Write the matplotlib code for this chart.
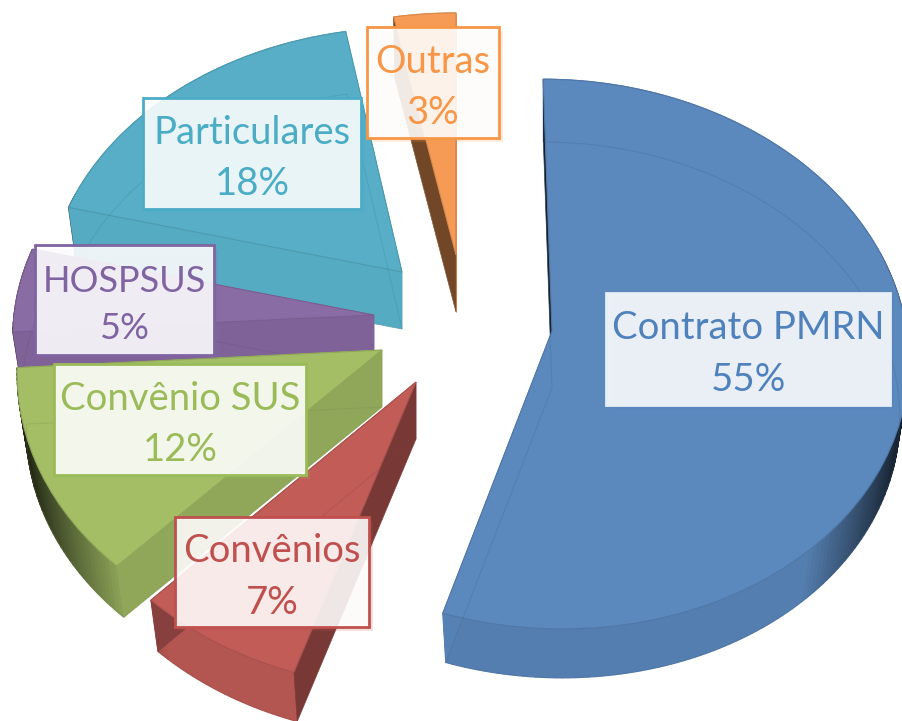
import numpy as np
import matplotlib
matplotlib.use('Agg')
import matplotlib.pyplot as plt
import matplotlib.patheffects as pe
from matplotlib.patches import Rectangle
from matplotlib.transforms import Transform, Affine2D

# data
categories = ['Contrato PMRN', 'Convênios', 'Convênio SUS', 'HOSPSUS', 'Particulares', 'Outras']
shares = [55, 7, 12, 5, 18, 3]
percent_labels = ['55%', '7%', '12%', '5%', '18%', '3%']

# styles
colors = ['#5b88bd', '#c15c57', '#a4be66', '#8a6ca5', '#57aec6', '#f59b55']
text_colors = ['#4f81bd', '#c0504d', '#9bbb59', '#8064a2', '#4bacc6', '#f79646']
start_wall_shade = [0.22, 0.62, 0.88, 0.92, 0.98, 0.46]
end_wall_shade = [0.95, 0.7, 0.9, 0.95, 0.98, 0.95]
draw_order = [5, 4, 3, 1, 2, 0]  # back to front, by slice index
font_sizes = [27.5, 27.5, 27.5, 26, 27.5, 27.5]

# layout, in pixels
apex_x = [552, 416, 382, 374, 402, 456]
apex_y = [331, 382, 350, 315, 272, 255]
size_x = [0.985, 1.01, 1.01, 1.0, 0.98, 1.0]
size_y = [1.03, 1.06, 1.05, 1.02, 1.0, 0.99]
shear = [0.035, 0, 0, 0, -0.02, 0]
box_left = [606, 175, 54, 35, 143, 367]
box_top = [293, 517, 364, 245, 98, 27]
box_right = [890, 369, 306, 214, 361, 499]
box_bottom = [405, 627, 475, 355, 209, 138]
border_colors = ['#e8eef5', '#c0504d', '#9bbb59', '#8064a2', '#4bacc6', '#f79646']
depth = 57
base_scale = 0.975
rx, ry, k = 360, 265, 0.084


class Perspective(Transform):
    input_dims = 2
    output_dims = 2

    def transform_non_affine(self, values):
        values = np.asarray(values, dtype=float)
        f = 1 / (1 + k * values[:, 1])
        return np.column_stack([rx * values[:, 0] * f, -ry * values[:, 1] * f])


def placement(idx, drop=0):
    m = Affine2D.from_values(size_x[idx], 0, shear[idx] * size_y[idx], size_y[idx], 0, 0)
    return m + Affine2D().translate(apex_x[idx], apex_y[idx] + drop)


def project(theta, radius, idx, drop=0):
    u = radius * np.sin(np.radians(theta))
    v = radius * np.cos(np.radians(theta))
    p = Perspective().transform_non_affine(np.column_stack([u, v]))
    return placement(idx, drop).transform(p)


def shade(color, s):
    return tuple(min(c * s, 1) for c in matplotlib.colors.to_rgb(color))


def radial_wall(ax, theta, idx, s, z):
    rim = project(np.array([theta]), 1, idx)[0]
    rim_low = project(np.array([theta]), base_scale, idx, depth)[0]
    xs = [apex_x[idx], rim[0], rim_low[0], apex_x[idx]]
    ys = [apex_y[idx], rim[1], rim_low[1], apex_y[idx] + depth]
    ax.fill(xs, ys, color=shade(colors[idx], s), lw=0.4, zorder=z)


fig = plt.figure(figsize=(9.03, 7.21), dpi=100)
ax = fig.add_axes([0, 0, 1, 1])

tops, _ = ax.pie(shares, startangle=90, counterclock=False, colors=colors,
                 wedgeprops=dict(edgecolor='none'))
ghosts, _ = ax.pie(shares, startangle=90, counterclock=False, radius=base_scale,
                   wedgeprops=dict(fill=False, lw=0.8))

ax.set_aspect('auto')
ax.set_xlim(0, 903)
ax.set_ylim(721, 0)
ax.axis('off')

edges = np.concatenate([[0], np.cumsum(shares)]) * 3.6

for pos, i in enumerate(draw_order):
    z = 10 + pos * 10
    a0, a1 = edges[i], edges[i + 1]

    # outer wall, darker where it turns away from the light
    steps = np.arange(a0, a1 + 1, 1.0)
    steps[-1] = a1
    for t0, t1 in zip(steps[:-1], steps[1:]):
        mid = np.radians((t0 + t1) / 2)
        s = 0.93
        if np.cos(mid) < 0.3:
            s = np.interp(abs(np.sin(mid)), [0.65, 0.97], [0.93, 0.2])
        ts = np.array([t0, t1])
        top_rim = project(ts, 1, i)
        low_rim = project(ts, base_scale, i, depth)
        c = shade(colors[i], s)
        ax.fill([top_rim[0, 0], top_rim[1, 0], low_rim[1, 0], low_rim[0, 0]],
                [top_rim[0, 1], top_rim[1, 1], low_rim[1, 1], low_rim[0, 1]],
                facecolor=c, edgecolor=c, lw=0.8, zorder=z)

    radial_wall(ax, a1, i, end_wall_shade[i], z + 1)
    radial_wall(ax, a0, i, start_wall_shade[i], z + 2)

    tops[i].set_transform(Perspective() + placement(i) + ax.transData)
    tops[i].set_zorder(z + 3)
    tops[i].set_edgecolor(shade(colors[i], 0.88))
    tops[i].set_linewidth(0.8)

    ghosts[i].set_transform(Perspective() + placement(i, depth) + ax.transData)
    ghosts[i].set_zorder(z + 4)
    ghosts[i].set_edgecolor(shade(colors[i], 0.7))
    ghosts[i].set_alpha(0.22)

# label boxes
for i, name in enumerate(categories):
    w = box_right[i] - box_left[i]
    h = box_bottom[i] - box_top[i]
    box = Rectangle((box_left[i], box_top[i]), w, h, facecolor=(1, 1, 1, 0.88),
                    edgecolor=border_colors[i], lw=2, zorder=100)
    box.set_path_effects([pe.SimplePatchShadow(offset=(3, -3), alpha=0.18, shadow_rgbFace=text_colors[i]),
                          pe.Normal()])
    ax.add_patch(box)
    ax.text((box_left[i] + box_right[i]) / 2, (box_top[i] + box_bottom[i]) / 2 + 5,
            name + '\n' + percent_labels[i], color=text_colors[i], ha='center', va='center',
            fontsize=font_sizes[i], family='Lato', linespacing=1.52, zorder=101)

fig.savefig('out.png', dpi=100)
